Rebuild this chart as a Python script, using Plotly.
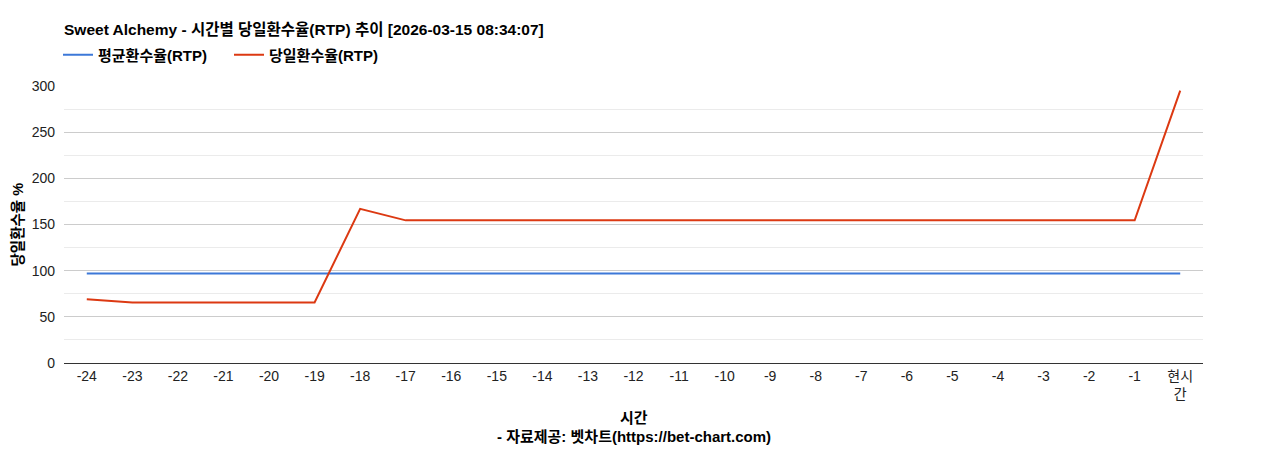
import plotly.graph_objects as go

# hours back from now, last one is the current hour
hours = [str(h) for h in range(-24, 0)] + ["현시<br>간"]

avg_rtp = [97] * 25
today_rtp = [69, 65.5, 65.5, 65.5, 65.5, 65.5, 167, 154.5, 154.5, 154.5,
             154.5, 154.5, 154.5, 154.5, 154.5, 154.5, 154.5, 154.5, 154.5,
             154.5, 154.5, 154.5, 154.5, 154.5, 295]

font_family = "Arial, Liberation Sans, Noto Sans CJK KR, sans-serif"

# page body has an 8px margin, so the figure is a bit smaller than the window
W, H = 1260, 442
plot_w, plot_h = 1139, 277

fig = go.Figure()
fig.add_trace(go.Scatter(x=hours, y=avg_rtp, mode="lines", name="<b>평균환수율(RTP)</b>",
                         line=dict(color="#3c78d8", width=2)))
fig.add_trace(go.Scatter(x=hours, y=today_rtp, mode="lines", name="<b>당일환수율(RTP)</b>",
                         line=dict(color="#dc3912", width=2)))

fig.update_layout(
    width=W, height=H,
    margin=dict(l=56, r=65, t=78, b=87),
    paper_bgcolor="white", plot_bgcolor="white",
    font=dict(family=font_family, size=14, color="#222"),
    title=dict(text="<b>Sweet Alchemy - 시간별 당일환수율(RTP) 추이 [2026-03-15 08:34:07]</b>",
               x=56 / W, xanchor="left", y=1 - 22 / H, yanchor="middle",
               font=dict(size=15.5, color="#000")),
    legend=dict(orientation="h", x=-6 / plot_w, xanchor="left", y=1 + 31 / plot_h, yanchor="middle",
                font=dict(size=15, color="#000"), itemwidth=30,
                entrywidth=126, entrywidthmode="pixels"),
    showlegend=True,
    hovermode="x",
)

fig.update_xaxes(
    type="category", range=[-0.5, 24.5],
    showgrid=False, showline=True, linecolor="#333", linewidth=1,
    ticks="", tickfont=dict(size=14, color="#222"),
)
fig.update_yaxes(
    range=[0, 300], dtick=50, gridcolor="#cccccc", zeroline=False,
    tickfont=dict(size=14, color="#222"), ticks="", ticklabelstandoff=8,
    minor=dict(dtick=25, showgrid=True, gridcolor="#ebebeb"),
)

fig.add_annotation(text="<b>당일환수율 %</b>", textangle=-90, xref="paper", yref="paper",
                   x=(17 - 64) / plot_w, y=0.5, xanchor="center", yanchor="middle",
                   showarrow=False, font=dict(size=14.5, color="#000"))
fig.add_annotation(text="<b>시간</b>", xref="paper", yref="paper",
                   x=0.5, y=-(417 - 363) / plot_h, xanchor="center", yanchor="middle",
                   showarrow=False, font=dict(size=15, color="#000"))
fig.add_annotation(text="<b>- 자료제공: 벳차트(https://bet-chart.com)</b>", xref="paper", yref="paper",
                   x=0.5, y=-(436 - 363) / plot_h, xanchor="center", yanchor="middle",
                   showarrow=False, font=dict(size=15, color="#000"))

fig.write_html("out.html")
